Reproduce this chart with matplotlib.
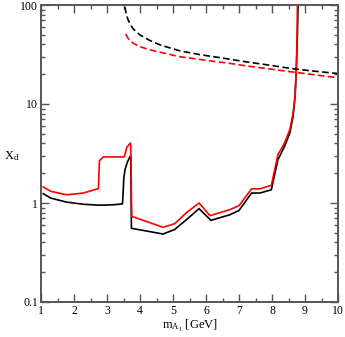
import matplotlib
matplotlib.use("Agg")
import matplotlib.pyplot as plt
from matplotlib.ticker import FixedLocator, LogLocator, NullFormatter

plt.rcParams["font.family"] = ["Liberation Serif", "DejaVu Serif"]
plt.rcParams["mathtext.fontset"] = "custom"
plt.rcParams["mathtext.rm"] = "Liberation Serif"
plt.rcParams["mathtext.it"] = "Liberation Serif"

# solid curves (lower bound on X_d)
black_x = [1.07, 1.3, 1.78, 2.3, 2.79, 3.2, 3.47, 3.49, 3.51, 3.55, 3.62, 3.70, 3.72, 3.74,
           4.70, 5.05, 5.41, 5.79, 6.15, 6.72, 7.0, 7.38, 7.63, 7.98, 8.18, 8.38, 8.54,
           8.64, 8.70, 8.74, 8.77, 8.79]
black_y = [1.24, 1.12, 1.02, 0.97, 0.95, 0.96, 0.98, 1.3, 1.8, 2.2, 2.6, 2.96, 2.9, 0.555,
           0.486, 0.54, 0.68, 0.877, 0.668, 0.76, 0.84, 1.26, 1.26, 1.36, 2.74, 3.73, 5.1,
           7.5, 12.0, 24.0, 50.0, 100.0]
red_x = [1.07, 1.3, 1.78, 2.28, 2.74, 2.77, 2.89, 3.52, 3.56, 3.60, 3.71, 3.72, 3.75,
         4.70, 5.05, 5.41, 5.79, 6.12, 6.72, 7.0, 7.38, 7.63, 7.98, 8.18, 8.38, 8.54,
         8.64, 8.70, 8.74, 8.76, 8.77]
red_y = [1.45, 1.31, 1.21, 1.26, 1.40, 2.67, 2.92, 2.92, 3.25, 3.65, 4.03, 3.9, 0.733,
         0.568, 0.618, 0.80, 1.0, 0.745, 0.856, 0.94, 1.39, 1.39, 1.51, 3.08, 4.04, 5.5,
         8.1, 12.5, 24.0, 50.0, 100.0]

# dashed curves (upper bound on X_d)
black_dash_x = [3.54, 3.58, 3.63, 3.70, 3.8, 4.0, 4.3, 4.61, 5.21, 5.82, 6.36, 6.67,
                7.2, 7.84, 8.55, 9.2, 10.0]
black_dash_y = [96, 82, 72, 64, 57, 49.8, 43.8, 39.5, 34.4, 31.5, 29.6, 28.5,
                26.7, 24.9, 22.9, 21.6, 20.3]
red_dash_x = [3.57, 3.62, 3.70, 3.8, 4.0, 4.3, 4.61, 5.21, 5.82, 6.36, 6.67, 7.2, 7.84,
              8.55, 9.2, 10.0]
red_dash_y = [51, 47, 43.6, 41, 37.9, 35.3, 33.3, 30.0, 28.2, 26.6, 25.9, 24.3, 22.8,
              21.2, 19.9, 18.4]

fig = plt.figure(figsize=(3.45, 3.37), dpi=100)
ax = fig.add_axes([41 / 345, 35 / 337, 297 / 345, 297 / 337])

ax.plot(black_x, black_y, color="black", lw=1.2)
ax.plot(red_x, red_y, color="red", lw=1.2)
ax.plot(black_dash_x, black_dash_y, color="black", lw=1.2, dashes=(4, 2))
ax.plot(red_dash_x, red_dash_y, color="red", lw=1.2, dashes=(4, 2))

ax.set_yscale("log")
ax.set_xlim(1, 10)
ax.set_ylim(0.1, 100)
ax.set_xticks(range(1, 11))
ax.xaxis.set_minor_locator(FixedLocator([x + 0.5 for x in range(1, 10)]))
ax.set_yticks([0.1, 1, 10, 100])
ax.set_yticklabels(["0.1", "1", "10", "100"])
ax.yaxis.set_minor_locator(LogLocator(base=10, subs=range(2, 10)))
ax.yaxis.set_minor_formatter(NullFormatter())

ax.tick_params(which="both", direction="in", top=True, right=True, labelsize=8.5,
               width=1.0, color="#555555")
ax.tick_params(which="major", length=6, pad=2)
ax.tick_params(which="minor", length=3)
for s in ax.spines.values():
    s.set_linewidth(1.4)
    s.set_color("#555555")

ax.set_xlabel(r"m$_{\mathrm{A_1}}$ [GeV]", fontsize=9, labelpad=1)
ax.set_ylabel(r"X$_{\mathrm{d}}$", fontsize=9, rotation=0, va="center")
ax.yaxis.set_label_coords(-0.1, 0.49)

fig.savefig("out.png", dpi=100)
